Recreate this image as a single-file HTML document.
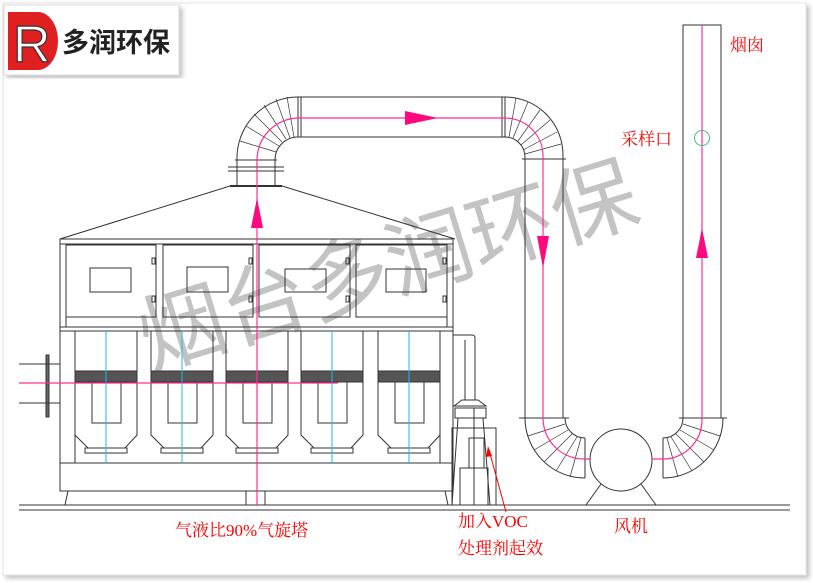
<!DOCTYPE html>
<html><head><meta charset="utf-8"><style>
html,body{margin:0;padding:0;background:#fff}
svg{display:block}
text{font-family:"Liberation Serif","Noto Serif CJK SC","Noto Sans CJK SC",serif}
</style></head><body>
<svg width="813" height="583" viewBox="0 0 813 583" xmlns="http://www.w3.org/2000/svg">
<defs>
<filter id="sh" x="-5%" y="-5%" width="110%" height="110%"><feDropShadow dx="3" dy="3" stdDeviation="2.5" flood-color="#999" flood-opacity="0.6"/></filter>
</defs>
<rect x="3" y="3" width="803" height="572" fill="#fff" stroke="#e4e4e4" filter="url(#sh)"/>

<!-- watermark -->
<text x="150" y="370" transform="rotate(-17 150 370)" font-family="Liberation Sans,'Noto Sans CJK SC',sans-serif" font-size="86" fill="#b8b8b8" fill-opacity="0.85" style="font-family:'Noto Sans CJK SC',sans-serif">烟台多润环保</text>

<g stroke="#333" stroke-width="1" fill="none">
<!-- hood -->
<path d="M60 239 L230 186 L282 186 L455 239"/>
<line x1="230" y1="186" x2="282" y2="186" stroke-width="2"/>
<!-- vertical duct from hood -->
<line x1="237" y1="186" x2="237" y2="160"/><line x1="275" y1="186" x2="275" y2="160"/>
<line x1="228" y1="167" x2="284" y2="167"/><line x1="228" y1="171" x2="284" y2="171"/>
<line x1="235" y1="160" x2="277" y2="160"/>
<!-- left top bend -->
<path d="M237 160 A61 61 0 0 1 298 97"/>
<path d="M275 160 A23 23 0 0 1 298 137"/>
<g stroke-width="0.7">
<line x1="240" y1="141" x2="276" y2="152"/><line x1="246" y1="126" x2="279" y2="146"/>
<line x1="254" y1="114" x2="282" y2="142"/><line x1="264" y1="105" x2="286" y2="139"/>
<line x1="276" y1="99" x2="290" y2="138"/><line x1="287" y1="97" x2="294" y2="137"/>
</g>
<line x1="298" y1="97" x2="298" y2="137"/><line x1="301" y1="97" x2="301" y2="137"/>
<!-- top horizontal -->
<line x1="298" y1="97" x2="505" y2="97"/><line x1="298" y1="137" x2="505" y2="137"/>
<line x1="502" y1="97" x2="502" y2="137"/><line x1="505" y1="97" x2="505" y2="137"/>
<!-- right top bend -->
<path d="M505 97 A58 58 0 0 1 563 155"/>
<path d="M505 137 A20 20 0 0 1 525 157"/>
<g stroke-width="0.7">
<line x1="516" y1="98" x2="509" y2="137"/><line x1="528" y1="102" x2="513" y2="138"/>
<line x1="540" y1="110" x2="518" y2="141"/><line x1="550" y1="120" x2="521" y2="145"/>
<line x1="557" y1="132" x2="523" y2="150"/><line x1="561" y1="144" x2="525" y2="154"/>
</g>
<line x1="522" y1="159" x2="566" y2="159"/>
<!-- down duct -->
<line x1="525" y1="157" x2="525" y2="418"/><line x1="563" y1="155" x2="563" y2="418"/>
<line x1="519" y1="418" x2="569" y2="418"/>
<!-- bottom U bend left -->
<path d="M525 418 A60 60 0 0 0 585 478"/>
<path d="M565 418 A20 20 0 0 0 585 438"/>
<g stroke-width="0.7">
<line x1="528" y1="436" x2="565" y2="424"/><line x1="534" y1="450" x2="568" y2="430"/>
<line x1="544" y1="462" x2="572" y2="434"/><line x1="556" y1="471" x2="577" y2="437"/>
<line x1="570" y1="477" x2="581" y2="438"/>
</g>
<line x1="585" y1="438" x2="585" y2="478"/>
<!-- fan -->
<circle cx="621" cy="460" r="31" fill="#fff"/>
<line x1="601" y1="484" x2="586" y2="505"/><line x1="641" y1="484" x2="656" y2="505"/>
<!-- right U bend -->
<path d="M723 418 A60 60 0 0 1 663 478"/>
<path d="M683 418 A20 20 0 0 1 663 438"/>
<g stroke-width="0.7">
<line x1="720" y1="436" x2="683" y2="424"/><line x1="714" y1="450" x2="680" y2="430"/>
<line x1="704" y1="462" x2="676" y2="434"/><line x1="692" y1="471" x2="671" y2="437"/>
<line x1="678" y1="477" x2="667" y2="438"/>
</g>
<line x1="663" y1="438" x2="663" y2="478"/>
<line x1="679" y1="418" x2="727" y2="418"/>
<!-- chimney -->
<rect x="683" y="25" width="38" height="393"/>
<line x1="723" y1="418" x2="721" y2="418"/>

<!-- tower box -->
<rect x="60" y="239" width="393" height="224"/>
<line x1="60" y1="244" x2="453" y2="244"/>
<line x1="60" y1="327" x2="453" y2="327"/><line x1="60" y1="331" x2="453" y2="331"/>
<line x1="66" y1="244" x2="66" y2="327"/><line x1="447" y1="244" x2="447" y2="327"/>
<rect x="66" y="245" width="90" height="72"/><rect x="163" y="245" width="90" height="72"/>
<rect x="259" y="245" width="91" height="72"/><rect x="356" y="245" width="91" height="72"/>
<rect x="90" y="268" width="41" height="24"/><rect x="187" y="267" width="41" height="25"/>
<rect x="285" y="269" width="41" height="23"/><rect x="386" y="269" width="40" height="23"/>
<rect x="152" y="258" width="3" height="6"/><rect x="152" y="296" width="3" height="6"/>
<rect x="249" y="258" width="3" height="6"/><rect x="249" y="296" width="3" height="6"/>
<rect x="346" y="258" width="3" height="6"/><rect x="346" y="296" width="3" height="6"/>
<rect x="443" y="258" width="3" height="6"/><rect x="443" y="296" width="3" height="6"/>
<line x1="75" y1="331" x2="75" y2="463"/><line x1="440" y1="331" x2="440" y2="463"/>
<!-- base -->
<rect x="60" y="463" width="393" height="28"/>
<line x1="68" y1="491" x2="65" y2="505"/><line x1="445" y1="491" x2="448" y2="505"/>
<line x1="246" y1="491" x2="246" y2="505"/><line x1="265" y1="491" x2="265" y2="505"/>
<!-- inlet -->
<rect x="46" y="355" width="3" height="62" fill="#666"/>
<line x1="19" y1="364" x2="60" y2="364"/><line x1="19" y1="403" x2="60" y2="403"/>
<!-- ground -->
<line x1="19" y1="505" x2="790" y2="505"/><line x1="19" y1="510" x2="790" y2="510"/>
<!-- pump -->
<path d="M453 335 L472 335 Q475 335 475 338 L475 400 M465 340 L465 400"/>
<path d="M462 400 L478 400 L486 406 L454 406 Z"/>
<rect x="455" y="408" width="31" height="10"/>
<path d="M458 418 L452 505 M483 418 L490 505"/>
<rect x="452" y="428" width="44" height="77"/>
<rect x="469" y="438" width="15" height="30"/>
<rect x="460" y="468" width="28" height="37"/>
<line x1="474" y1="408" x2="474" y2="505"/>
</g>
<!-- cells -->
<g stroke="#333" stroke-width="1" fill="none">
<g id="cell">
<path d="M75 331 L75 435 L88 448 L125 448 L137 435 L137 331"/>
<rect x="85" y="448" width="42" height="5"/>
<rect x="75" y="371" width="62" height="11" fill="#555"/>
<rect x="92" y="382" width="29" height="41"/>
<line x1="106" y1="331" x2="106" y2="463" stroke="#22b7ea"/>
</g>
<use href="#cell" x="76"/><use href="#cell" x="151"/><use href="#cell" x="226"/><use href="#cell" x="303"/>
</g>
<!-- flow lines pink -->
<g stroke="#ff2f92" stroke-width="1.2" fill="none">
<line x1="19" y1="383" x2="338" y2="383"/>
<line x1="257" y1="505" x2="257" y2="160"/>
<path d="M257 160 A42 42 0 0 1 299 118 L505 118 A38 38 0 0 1 543 156 L543 418 A41 41 0 0 0 584 459 L590 459"/>
<path d="M652 459 L663 459 A39 39 0 0 0 702 420 L702 25"/>
</g>
<g fill="#ff0a7e">
<polygon points="257,198 251,228 263,228"/>
<polygon points="438,118 405,111 405,125"/>
<polygon points="543,268 537,236 549,236"/>
<polygon points="702,228 696,258 708,258"/>
</g>
<circle cx="702" cy="138" r="7.5" fill="none" stroke="#3ec07a" stroke-width="1"/>
<!-- red leader -->
<line x1="506" y1="512" x2="489" y2="450" stroke="#f00" stroke-width="1"/>
<polygon points="488,446 486,457 492,456" fill="#f00"/>
<!-- labels -->
<g fill="#ff0000" font-size="17">
<text x="730" y="51">烟囱</text>
<text x="621" y="145">采样口</text>
<text x="175" y="536">气液比90%气旋塔</text>
<text x="458" y="527">加入VOC</text>
<text x="458" y="554">处理剂起效</text>
<text x="614" y="532">风机</text>
</g>
<!-- logo -->
<g filter="url(#sh)"><rect x="4" y="5" width="175" height="70" fill="#fff" stroke="#ddd"/></g>
<path d="M8 12 L38 12 A20 29 0 0 1 38 70 L8 70 Z" fill="#e02020"/>
<text x="13" y="62" font-family="Liberation Sans,sans-serif" font-size="52" fill="#fff" stroke="#333" stroke-width="1.2" style="font-family:'Liberation Sans',sans-serif">R</text>
<text x="62" y="52" font-size="27" font-weight="bold" fill="#222" style="font-family:'Noto Sans CJK SC',sans-serif">多润环保</text>
</svg>
</body></html>
